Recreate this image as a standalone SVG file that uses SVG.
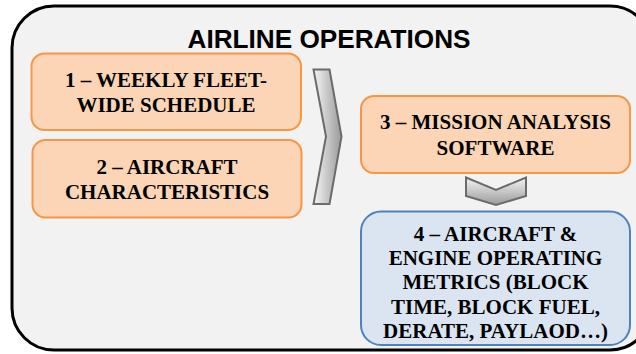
<svg xmlns="http://www.w3.org/2000/svg" width="636" height="354" viewBox="0 0 636 354">
<defs>
<linearGradient id="gh" x1="0" y1="0" x2="1" y2="0">
<stop offset="0" stop-color="#f4f4f4"/>
<stop offset="1" stop-color="#9a9a9a"/>
</linearGradient>
<linearGradient id="gv" x1="0" y1="0" x2="0" y2="1">
<stop offset="0" stop-color="#f4f4f4"/>
<stop offset="1" stop-color="#9a9a9a"/>
</linearGradient>
<style>
.orange{fill:#fbd5b5;stroke:#f79646;stroke-width:2}
.blue{fill:#dbe5f1;stroke:#4f81bd;stroke-width:2}
.lbl{font-family:"Liberation Serif","Times New Roman",serif;font-weight:bold;font-size:21px;fill:#000;text-anchor:middle}
.chev{stroke:#6b6b6b;stroke-width:2;stroke-linejoin:miter}
</style>
</defs>
<g id="container">
<rect x="12" y="6" width="640" height="344" rx="42" ry="42" fill="#f2f2f2" stroke="#000" stroke-width="3"/>
<text x="329" y="48" font-family="'Liberation Sans',Arial,sans-serif" font-weight="bold" font-size="25" text-anchor="middle" textLength="283" lengthAdjust="spacingAndGlyphs">AIRLINE OPERATIONS</text>
</g>
<g id="connectors">
<polygon class="chev" fill="url(#gh)" points="313.5,69.5 329.5,69.5 341.5,136.5 329.5,204 313.5,204 326,136.5"/>
<polygon class="chev" fill="url(#gv)" points="466,177.5 496,190 526,177.5 526,196 496,205 466,196"/>
</g>
<g id="node1">
<rect class="orange" x="31.5" y="53.5" width="269.5" height="76.5" rx="13"/>
<text class="lbl" x="166" y="87">1 – WEEKLY FLEET-</text>
<text class="lbl" x="166" y="112">WIDE SCHEDULE</text>
</g>
<g id="node2">
<rect class="orange" x="32.5" y="140" width="269" height="77.5" rx="13"/>
<text class="lbl" x="167" y="174">2 – AIRCRAFT</text>
<text class="lbl" x="167" y="199">CHARACTERISTICS</text>
</g>
<g id="node3">
<rect class="orange" x="361" y="96" width="269" height="77" rx="13"/>
<text class="lbl" x="495.5" y="129">3 – MISSION ANALYSIS</text>
<text class="lbl" x="495.5" y="155">SOFTWARE</text>
</g>
<g id="node4">
<rect class="blue" x="361" y="211.5" width="269" height="133.5" rx="20"/>
<text class="lbl" x="495.5" y="241">4 – AIRCRAFT &amp;</text>
<text class="lbl" x="495.5" y="264.5">ENGINE OPERATING</text>
<text class="lbl" x="495.5" y="289">METRICS (BLOCK</text>
<text class="lbl" x="495.5" y="313.5">TIME, BLOCK FUEL,</text>
<text class="lbl" x="495.5" y="338">DERATE, PAYLAOD…)</text>
</g>
</svg>
